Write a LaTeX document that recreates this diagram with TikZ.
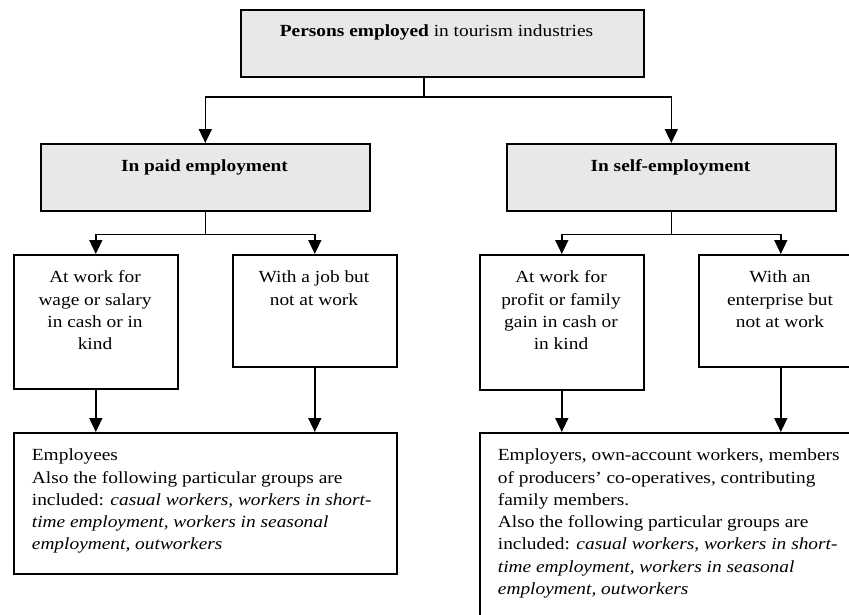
\documentclass[tikz,border=0pt]{standalone}
\usepackage{fontspec}
\setmainfont{Liberation Serif}[FakeStretch=1.14]
\usetikzlibrary{arrows.meta}
\definecolor{boxgray}{HTML}{E8E8E8}
\tikzset{
  every node/.style={font=\fontsize{17}{22.3}\selectfont},
  box/.style={draw=black, line width=1.6pt, inner sep=0pt, anchor=north west},
  graybox/.style={box, fill=boxgray},
  conn/.style={line width=1.6pt},
  arr/.style={line width=1.6pt, -{Triangle[width=13pt,length=14pt]}},
  txt/.style={inner sep=0pt}
}
\begin{document}
\begin{tikzpicture}[x=1pt,y=-1pt]
\useasboundingbox (0,0) rectangle (849,614);
\clip (0,0) rectangle (849,614);
% boxes
\node[graybox, minimum width=403pt, minimum height=67pt] (top) at (240,9) {};
\node[graybox, minimum width=329pt, minimum height=67pt] (paid) at (40,143) {};
\node[graybox, minimum width=329pt, minimum height=67pt] (self) at (506,143) {};
\node[box, minimum width=164pt, minimum height=134pt] (b1) at (13,254) {};
\node[box, minimum width=164pt, minimum height=112pt] (b2) at (232,254) {};
\node[box, minimum width=164pt, minimum height=135pt] (b3) at (479,254) {};
\node[box, minimum width=164pt, minimum height=112pt] (b4) at (698,254) {};
\node[box, minimum width=383pt, minimum height=141pt] (e1) at (13,432) {};
\node[box, minimum width=383pt, minimum height=220pt] (e2) at (479,432) {};
% texts
\node[txt, anchor=base] (ttop) at (436.5,36.7) {\textbf{Persons employed} in tourism industries};
\node[txt, anchor=base] (tpaid) at (204.5,171.7) {\textbf{In paid employment}};
\node[txt, anchor=base] (tself) at (670.5,171.7) {\textbf{In self-employment}};
\node[txt, anchor=north, align=center] (tb1) at (95,267.1) {\strut At work for\\wage or salary\\in cash or in\\kind};
\node[txt, anchor=north, align=center] (tb2) at (314,267.1) {\strut With a job but\\not at work};
\node[txt, anchor=north, align=center] (tb3) at (561,267.1) {\strut At work for\\profit or family\\gain in cash or\\in kind};
\node[txt, anchor=north, align=center] (tb4) at (780,267.1) {\strut With an\\enterprise but\\not at work};
\node[txt, anchor=north west, align=left] (te1) at (31.7,444.9) {\strut Employees\\Also the following particular groups are\\included: \textit{casual workers, workers in short-}\\\textit{time employment, workers in seasonal}\\\textit{employment, outworkers}};
\node[txt, anchor=north west, align=left] (te2) at (497.7,444.9) {\strut Employers, own-account workers, members\\of producers’ co-operatives, contributing\\family members.\\Also the following particular groups are\\included: \textit{casual workers, workers in short-}\\\textit{time employment, workers in seasonal}\\\textit{employment, outworkers}};
% connectors
\coordinate (j0) at (424,97);
\draw[conn] (top.south -| j0) -- (j0);
\draw[arr] (j0) -| (paid.north);
\draw[arr] (j0) -| (self.north);
\coordinate (j1) at ([yshift=-22.7pt]paid.south);
\draw[conn] (paid.south) -- (j1);
\draw[arr] (j1) -| (b1.north);
\draw[arr] (j1) -| (b2.north);
\coordinate (j2) at ([yshift=-22.7pt]self.south);
\draw[conn] (self.south) -- (j2);
\draw[arr] (j2) -| (b3.north);
\draw[arr] (j2) -| (b4.north);
\draw[arr] (b1.south) -- (b1.south |- e1.north);
\draw[arr] (b2.south) -- (b2.south |- e1.north);
\draw[arr] (b3.south) -- (b3.south |- e2.north);
\draw[arr] (b4.south) -- (b4.south |- e2.north);
\end{tikzpicture}
\end{document}
